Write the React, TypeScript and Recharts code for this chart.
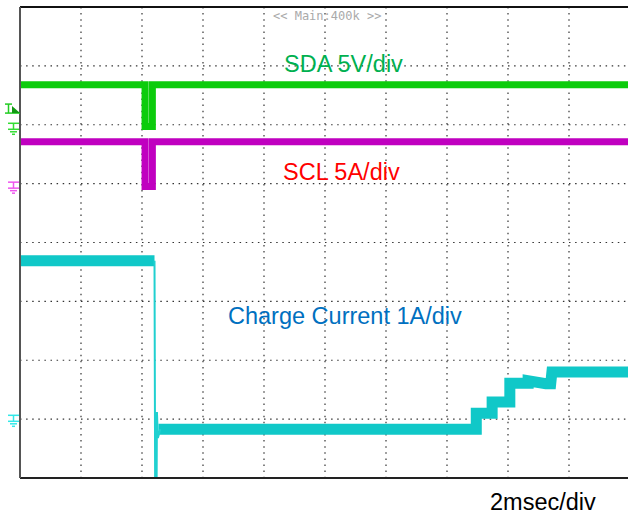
import React from "react";
import {
  LineChart,
  Line,
  XAxis,
  YAxis,
  CartesianGrid,
  ReferenceLine,
} from "recharts";

// time in divisions (2 msec/div), level in divisions from the bottom of the screen
const xTicks = [0, 1, 2, 3, 4, 5, 6, 7, 8, 9, 10];
const yTicks = [0, 1, 2, 3, 4, 5, 6, 7, 8];

const sdaTime = [0, 2.05, 2.05, 2.17, 2.17, 10];
const sdaLevel = [6.68, 6.68, 5.97, 5.97, 6.68, 6.68];

const sclTime = [0, 2.05, 2.05, 2.17, 2.17, 10];
const sclLevel = [5.71, 5.71, 4.95, 4.95, 5.71, 5.71];

const currentTime = [0, 2.205, 2.22, 2.27, 7.48, 7.48, 7.74, 7.74, 8.03, 8.03, 8.33, 8.33, 8.62, 8.7, 8.72, 10];
const currentLevel = [3.69, 3.69, null, 0.83, 0.83, 1.1, 1.1, 1.29, 1.29, 1.61, 1.61, 1.65, 1.6, 1.6, 1.8, 1.8];

// the fast edge when charging is switched off (thin trace)
const edgeTime = [2.205, 2.215, 2.24, 2.245, 2.26, 2.3];
const edgeLevel = [3.69, 0, 0, 1.12, 0.68, 0.83];

// ground / trigger markers on the left edge
const markerLevels = [0.98, 4.94, 5.94, 6.3];
const markerKinds = ["gnd", "gnd", "gnd", "trig"];
const markerColors = ["#33e8e8", "#ee55ee", "#33dd33", "#22cc22"];

const toRows = (t: number[], v: (number | null)[]) =>
  t.map((x, i) => ({ t: x, v: v[i] }));

const sdaData = toRows(sdaTime, sdaLevel);
const sclData = toRows(sclTime, sclLevel);
const currentData = toRows(currentTime, currentLevel);
const edgeData = toRows(edgeTime, edgeLevel);

const EmptyTick = () => <g />;

const nearestMarker = (value: number) => {
  let best = 0;
  markerLevels.forEach((m, i) => {
    if (Math.abs(m - value) < Math.abs(markerLevels[best] - value)) best = i;
  });
  return best;
};

const MarkerTick = (props: any) => {
  const { y, payload } = props;
  const raw = payload && payload.value !== undefined ? Number(payload.value) : 0;
  const i = nearestMarker(raw);
  const c = markerColors[i];
  if (markerKinds[i] === "trig") {
    return (
      <g>
        <g stroke={c} strokeWidth={1.5}>
          <line x1={5} y1={y - 3} x2={12} y2={y - 3} />
          <line x1={8.5} y1={y - 3} x2={8.5} y2={y + 6} />
          <line x1={5} y1={y + 6} x2={20} y2={y + 6} />
        </g>
        <polygon points={`${12},${y - 1} ${20},${y + 6} ${12},${y + 6}`} fill="#119911" />
      </g>
    );
  }
  return (
    <g stroke={c} strokeWidth={1.5}>
      <line x1={8} y1={y - 5} x2={19} y2={y - 5} />
      <line x1={13.5} y1={y - 5} x2={13.5} y2={y + 1} />
      <line x1={8} y1={y + 1} x2={19} y2={y + 1} />
      <line x1={10} y1={y + 3.5} x2={17} y2={y + 3.5} />
      <line x1={12} y1={y + 6} x2={15} y2={y + 6} />
    </g>
  );
};

const font = "'Liberation Sans', Arial, sans-serif";

export default function App() {
  return (
    <div
      style={{
        position: "fixed",
        left: 0,
        top: 0,
        width: 628,
        height: 517,
        overflow: "hidden",
        background: "#fff",
      }}
    >
      <LineChart width={640} height={517} margin={{ top: 7, right: 10, bottom: 0, left: 0 }}>
        <CartesianGrid
          yAxisId="v"
          stroke="#333"
          strokeWidth={1.2}
          strokeDasharray="1.5 4.6"
        />
        <XAxis
          type="number"
          dataKey="t"
          domain={[0, 10]}
          ticks={xTicks}
          interval={0}
          allowDataOverflow
          height={39}
          tick={EmptyTick}
          tickLine={false}
          axisLine={{ stroke: "#222", strokeWidth: 2 }}
        />
        <YAxis yAxisId="v" hide type="number" domain={[0, 8]} ticks={yTicks} allowDataOverflow />
        <YAxis
          yAxisId="m"
          type="number"
          domain={[0, 8]}
          ticks={markerLevels}
          width={20}
          tickLine={false}
          axisLine={{ stroke: "#555", strokeWidth: 2 }}
          tick={MarkerTick}
          interval={0}
          allowDataOverflow
        />
        <ReferenceLine yAxisId="v" y={8} stroke="#111" strokeWidth={2} ifOverflow="visible" />

        <Line
          yAxisId="v"
          data={sdaData}
          dataKey="v"
          type="linear"
          stroke="#0ccc0c"
          strokeWidth={7}
          strokeLinecap="butt"
          strokeLinejoin="miter"
          dot={false}
          isAnimationActive={false}
        />
        <Line
          yAxisId="v"
          data={sclData}
          dataKey="v"
          type="linear"
          stroke="#c000c0"
          strokeWidth={7}
          strokeLinecap="butt"
          strokeLinejoin="miter"
          dot={false}
          isAnimationActive={false}
        />
        <Line
          yAxisId="v"
          data={currentData}
          dataKey="v"
          type="linear"
          stroke="#10c8c8"
          strokeWidth={11}
          strokeLinecap="butt"
          strokeLinejoin="miter"
          connectNulls={false}
          dot={false}
          isAnimationActive={false}
        />
        <Line
          yAxisId="v"
          data={edgeData}
          dataKey="v"
          type="linear"
          stroke="#20d0d0"
          strokeWidth={2}
          dot={false}
          isAnimationActive={false}
        />
      </LineChart>

      <svg
        width={628}
        height={517}
        style={{ position: "absolute", left: 0, top: 0, pointerEvents: "none" }}
      >
        <text x={273} y={20} fontFamily="'DejaVu Sans Mono', monospace" fontSize={12} fill="#aaaaaa">
          {"<< Main:400k >>"}
        </text>
        <text x={284} y={72} fontFamily={font} fontSize={23.5} fill="#00b050">
          SDA 5V/div
        </text>
        <text x={283} y={180} fontFamily={font} fontSize={23.5} fill="#ff0000">
          SCL 5A/div
        </text>
        <text x={228} y={324} fontFamily={font} fontSize={23.5} fill="#0070c0">
          Charge Current 1A/div
        </text>
        <text x={490} y={510} fontFamily={font} fontSize={23.5} fill="#000">
          2msec/div
        </text>
      </svg>
    </div>
  );
}
